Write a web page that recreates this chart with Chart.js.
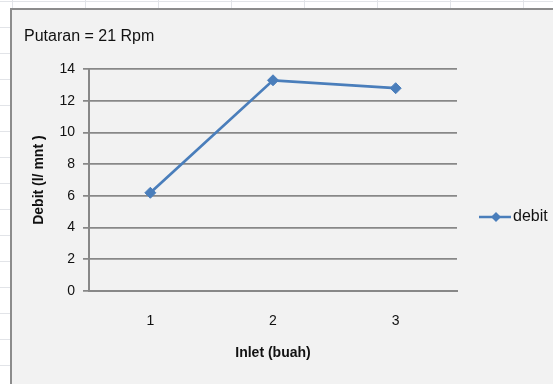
<!DOCTYPE html>
<html>
<head>
<meta charset="utf-8">
<script src="https://cdn.jsdelivr.net/npm/chart.js@4"></script>
<style>
  html, body { margin: 0; padding: 0; width: 553px; height: 384px; overflow: hidden; }
  body {
    background-color: #ffffff;
    background-image:
      repeating-linear-gradient(to right, transparent 0, transparent 12px, #e2e4e8 12px, #e2e4e8 13px, transparent 13px, transparent 73px),
      repeating-linear-gradient(to bottom, #e2e4e8 0, #e2e4e8 1px, transparent 1px, transparent 26px);
    background-position: 0 0, 0 1px;
  }
  #frame {
    position: absolute; left: 10px; top: 8px; width: 600px; height: 420px;
    background: #f2f2f2; border-left: 2px solid #8c8c8c; border-top: 2px solid #8c8c8c;
  }
  #wrap { position: absolute; left: 12px; top: 10px; width: 541px; height: 374px; }
</style>
</head>
<body>
<div id="frame"></div>
<div id="wrap"><canvas id="c" width="541" height="374"></canvas></div>
<script>
const chartTitle = 'Putaran = 21 Rpm';
const categories = ['1', '2', '3'];
const seriesName = 'debit';
const debitValues = [6.2, 13.3, 12.8];
const yTicks = [0, 2, 4, 6, 8, 10, 12, 14];
const xAxisTitle = 'Inlet (buah)';
const yAxisTitle = 'Debit (l/ mnt )';

const lineColor = '#4a7ebb';
const gridColor = '#888888';
const FONT = "'Liberation Sans', Arial, sans-serif";

const legendPlugin = {
  id: 'lineLegend',
  afterDraw(chart) {
    const ctx = chart.ctx;
    const ds = chart.data.datasets[0];
    const y = 207;
    ctx.save();
    ctx.strokeStyle = ds.borderColor;
    ctx.lineWidth = 2.5;
    ctx.beginPath();
    ctx.moveTo(467, y);
    ctx.lineTo(499, y);
    ctx.stroke();
    ctx.fillStyle = ds.borderColor;
    ctx.beginPath();
    ctx.moveTo(484, y - 5);
    ctx.lineTo(489, y);
    ctx.lineTo(484, y + 5);
    ctx.lineTo(479, y);
    ctx.closePath();
    ctx.fill();
    ctx.fillStyle = '#111111';
    ctx.font = '16px ' + FONT;
    ctx.textBaseline = 'middle';
    ctx.textAlign = 'left';
    ctx.fillText(ds.label, 501, y);
    ctx.restore();
  }
};

new Chart(document.getElementById('c'), {
  type: 'line',
  data: {
    labels: categories,
    datasets: [{
      label: seriesName,
      data: debitValues,
      borderColor: lineColor,
      backgroundColor: lineColor,
      borderWidth: 2.75,
      pointStyle: 'rectRot',
      pointRadius: 5.5,
      pointHoverRadius: 5.5,
      pointBorderWidth: 1,
      tension: 0,
      fill: false
    }]
  },
  options: {
    responsive: false,
    animation: false,
    layout: { padding: { left: 12, right: 96, top: 0, bottom: 0 } },
    plugins: {
      legend: { display: false },
      tooltip: { enabled: false },
      title: {
        display: true,
        text: chartTitle,
        align: 'start',
        color: '#111111',
        font: { family: FONT, size: 16, weight: 'normal' },
        padding: { top: 17, bottom: 23 }
      }
    },
    scales: {
      x: {
        type: 'category',
        offset: true,
        grid: { display: false, drawTicks: false },
        border: { display: true, color: gridColor, width: 2 },
        ticks: { color: '#111111', font: { family: FONT, size: 14 }, padding: 22 },
        title: { display: true, text: xAxisTitle, color: '#111111', font: { family: FONT, size: 14, weight: 'bold' }, padding: { top: 0, bottom: 22 } },
        afterFit(s) { s.height = 93; }
      },
      y: {
        min: 0, max: 14,
        afterBuildTicks(s) { s.ticks = yTicks.map(v => ({ value: v })); },
        grid: { color: gridColor, lineWidth: 1.75, drawTicks: true, tickLength: 6, tickColor: gridColor },
        border: { display: true, color: gridColor, width: 2 },
        ticks: { color: '#111111', font: { family: FONT, size: 14 }, padding: 8 },
        title: { display: true, text: yAxisTitle, color: '#111111', font: { family: FONT, size: 14, weight: 'bold' }, padding: { top: 7, bottom: 0 } },
        afterFit(s) { s.width = 65; }
      }
    }
  },
  plugins: [legendPlugin]
});
</script>
</body>
</html>
